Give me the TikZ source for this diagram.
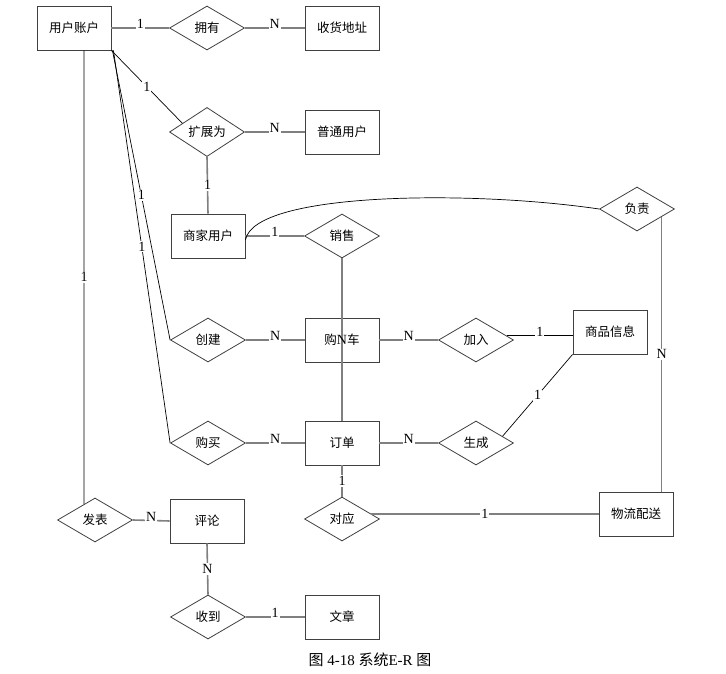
\documentclass[tikz,border=0pt]{standalone}
\usepackage{fontspec}
\setmainfont{Liberation Serif}
\newfontfamily\cjk{Noto Sans CJK SC}
\usetikzlibrary{shapes.geometric,calc}
\begin{document}
\begin{tikzpicture}[x=1pt,y=-1pt,
  ent/.style={draw=black!75,line width=0.9pt,fill=white,minimum width=74pt,minimum height=44pt,inner sep=0pt,font=\cjk\fontsize{12.5}{14}\selectfont},
  rel/.style={diamond,draw=black!75,line width=0.8pt,fill=white,minimum width=75pt,minimum height=44pt,inner sep=0pt,font=\cjk\fontsize{12.5}{14}\selectfont},
  conn/.style={draw=black!50,line width=1.6pt},
  thin/.style={draw=black,line width=0.7pt},
  lbl/.style={fill=white,inner sep=1pt,font=\fontsize{14}{16}\selectfont},
]
\useasboundingbox (0,0) rectangle (726,674);
% entities
\node[ent] (ua) at (74,28) {用户账户};
\node[ent] (shdz) at (342,28) {收货地址};
\node[ent] (ptyh) at (342,132) {普通用户};
\node[ent] (sjyh) at (208,236) {商家用户};
\node[ent] (gwc) at (342,340) {};
\node[ent] (spxx) at (610,332) {商品信息};
\node[ent] (dd) at (342,443) {订单};
\node[ent] (wlps) at (636,514) {物流配送};
\node[ent] (pl) at (207,521) {评论};
\node[ent] (wz) at (342,617) {文章};
% relations
\node[rel] (yy) at (207,28) {拥有};
\node[rel] (kzw) at (207,132) {扩展为};
\node[rel] (xs) at (342,236) {销售};
\node[rel] (fz) at (637,209) {负责};
\node[rel] (cj) at (208,340) {创建};
\node[rel] (jr) at (476,340) {加入};
\node[rel] (gm) at (208,443) {购买};
\node[rel] (sc) at (476,443) {生成};
\node[rel] (dy) at (342,519) {对应};
\node[rel] (fb) at (95,520) {发表};
\node[rel] (sd) at (208,617) {收到};
% connectors
\draw[conn] (ua.east) -- node[lbl,yshift=4pt]{1} (yy.west);
\draw[conn] (yy.east) -- node[lbl,yshift=4pt]{N} (shdz.west);
\draw[thin] (ua.south east) -- node[lbl]{1} ($(kzw.west)!0.35!(kzw.north)$);
\draw[conn] (kzw.east) -- node[lbl,yshift=4pt]{N} (ptyh.west);
\draw[conn] (kzw.south) -- node[lbl]{1} (sjyh.north);
\draw[conn] (sjyh.east) -- node[lbl,yshift=4pt]{1} (xs.west);
\draw[conn] (xs.south) -- (dd.north);
\node[font=\cjk\fontsize{12.5}{14}\selectfont,inner sep=0pt] (gwct) at (342,340) {购{\rmfamily\fontsize{14}{16}\selectfont N}车};
\draw[thin] ([yshift=-4pt]sjyh.east) .. controls (254,192) and (470,190) .. (fz.west);
\coordinate (fz1) at ($(fz.east)!0.35!(fz.south)$);
\draw[conn,line width=1.1pt] (fz1) -- node[lbl]{N} (fz1 |- wlps.north);
\draw[thin] ([xshift=10pt]ua.south) -- node[lbl]{1} ($(fb.west)!0.71!(fb.north)$);
\draw[thin] ([xshift=1pt]ua.south east) -- node[lbl]{1} (cj.west);
\draw[thin] ([xshift=2pt]ua.south east) -- node[lbl]{1} (gm.west);
\draw[conn] (cj.east) -- node[lbl,yshift=4pt]{N} (gwc.west);
\draw[conn] (gwc.east) -- node[lbl,yshift=4pt]{N} (jr.west);
\coordinate (jr1) at ($(jr.east)!0.18!(jr.north)$);
\draw[thin,line width=1pt] (jr1) -- node[lbl,yshift=4pt]{1} (spxx.west |- jr1);
\draw[thin] ($(sc.east)!0.3!(sc.north)$) -- node[lbl]{1} (spxx.south west);
\draw[conn] (gm.east) -- node[lbl,yshift=4pt]{N} (dd.west);
\draw[conn] (dd.east) -- node[lbl,yshift=4pt]{N} (sc.west);
\draw[conn] (dd.south) -- node[lbl]{1} (dy.north);
\coordinate (dy1) at ($(dy.east)!0.23!(dy.north)$);
\draw[conn] (dy1) -- node[lbl]{1} (wlps.west |- dy1);
\draw[conn] (fb.east) -- node[lbl,yshift=4pt]{N} (pl.west);
\draw[conn] (pl.south) -- node[lbl]{N} (sd.north);
\draw[conn] (sd.east) -- node[lbl,yshift=4pt]{1} (wz.west);
% caption
\node[font=\fontsize{15}{18}\selectfont] (cap) at (370,660) {{\cjk 图} 4-18 {\cjk 系统}E-R {\cjk 图}};
\end{tikzpicture}
\end{document}
